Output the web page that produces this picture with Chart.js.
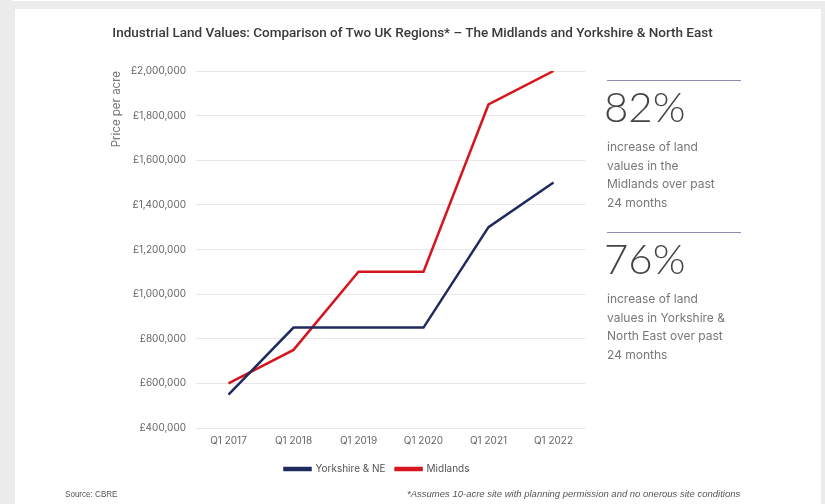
<!DOCTYPE html>
<html><head><meta charset="utf-8">
<script src="https://cdn.jsdelivr.net/npm/chart.js@4/dist/chart.umd.min.js"></script>
<style>
html,body{margin:0;padding:0;background:#ebebeb;}
#wrap{position:relative;width:825px;height:504px;overflow:hidden;background:#ebebeb;}
#panel{position:absolute;left:15px;top:9px;width:806px;height:495px;background:#fff;}
#panel-top{position:absolute;left:12px;top:0;width:813px;height:1px;background:#fff;}
canvas{position:absolute;left:0;top:0;}
.title{position:absolute;left:0;width:825px;top:24px;text-align:center;font-family:Roboto,sans-serif;font-weight:500;font-size:13.5px;color:#3a3a3a;}
.rule{position:absolute;left:607px;width:134px;height:1px;background:#8c8cae;}
.big{position:absolute;left:604px;font-family:Lato,sans-serif;font-weight:300;font-size:42px;color:#444;line-height:42px;}
.txt{position:absolute;left:607px;font-family:Inter,sans-serif;font-size:12px;color:#777;line-height:18.5px;}
.foot{position:absolute;top:488px;font-family:"Liberation Sans",sans-serif;font-size:9.5px;color:#555;transform-origin:left top;}
</style></head>
<body><div id="wrap">
<div id="panel-top"></div>
<div id="panel"></div>
<canvas id="c" width="825" height="504"></canvas>
<div class="title">Industrial Land Values: Comparison of Two UK Regions* – The Midlands and Yorkshire &amp; North East</div>
<div class="rule" style="top:80px"></div>
<div class="big" style="top:85px">82%</div>
<div class="txt" style="top:138px">increase of land<br>values in the<br>Midlands over past<br>24 months</div>
<div class="rule" style="top:232px"></div>
<div class="big" style="top:237px">76%</div>
<div class="txt" style="top:290px">increase of land<br>values in Yorkshire &amp;<br>North East over past<br>24 months</div>
<div class="foot" style="left:65px;transform:scaleX(0.85)">Source: CBRE</div>
<div class="foot" style="left:407px;font-style:italic">*Assumes 10-acre site with planning permission and no onerous site conditions</div>
</div>
<script>
const categories = ["Q1 2017","Q1 2018","Q1 2019","Q1 2020","Q1 2021","Q1 2022"];
const yorkshire = [550000, 850000, 850000, 850000, 1300000, 1500000];
const midlands = [600000, 750000, 1100000, 1100000, 1850000, 2000000];
const seriesNames = ["Yorkshire & NE", "Midlands"];
const yMin = 400000, yMax = 2000000, yStep = 200000;

const tickFont = {family: "Inter, sans-serif", size: 10};
new Chart(document.getElementById('c'), {
  type: 'line',
  data: {
    labels: categories,
    datasets: [
      {label: seriesNames[0], data: yorkshire, borderColor: '#1f2a5e', backgroundColor: '#1f2a5e', borderWidth: 2.5, pointRadius: 0, tension: 0},
      {label: seriesNames[1], data: midlands, borderColor: '#d5161e', backgroundColor: '#d5161e', borderWidth: 2.5, pointRadius: 0, tension: 0}
    ]
  },
  options: {
    responsive: false,
    animation: false,
    layout: {padding: {left: 100, right: 171, top: 71, bottom: 20}},
    plugins: {
      legend: {
        position: 'bottom',
        labels: {boxWidth: 26, boxHeight: 2, color: '#555', font: {family: "Inter, sans-serif", size: 10}, padding: 10}
      },
      tooltip: {enabled: false}
    },
    scales: {
      x: {
        offset: true,
        grid: {display: false, drawTicks: false},
        border: {display: false},
        ticks: {color: '#666', font: tickFont, padding: 7, maxRotation: 0},
        afterFit: s => { s.height = 26; }
      },
      y: {
        min: yMin, max: yMax,
        grid: {color: '#e8e8e8', drawTicks: false, lineWidth: 1},
        border: {display: false},
        ticks: {stepSize: yStep, color: '#666', font: tickFont, padding: 10,
          callback: v => '£' + v.toLocaleString('en-GB')},
        title: {display: true, text: 'Price per acre', align: 'end', color: '#777', font: {family: "Inter, sans-serif", size: 11.5}, padding: {top: 10, bottom: 0}},
        afterFit: s => { s.width = 96; }
      },
      yRight: {
        position: 'right',
        grid: {display: false, drawTicks: false},
        border: {display: false},
        ticks: {display: false},
        afterFit: s => { s.width = 68; }
      }
    }
  }
});
</script>
</body></html>
